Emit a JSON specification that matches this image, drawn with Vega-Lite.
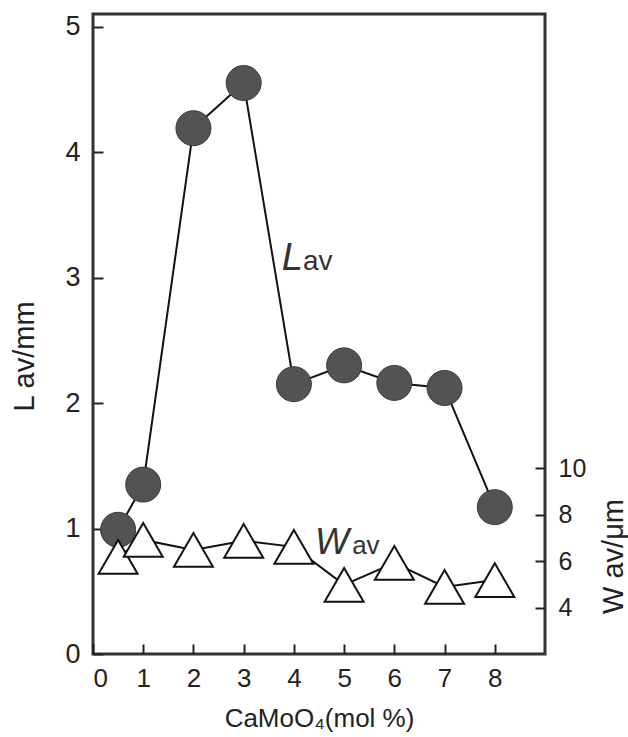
{
  "$schema": "https://vega.github.io/schema/vega-lite/v6.json",
  "width": 452,
  "height": 640,
  "autosize": {"type": "none"},
  "padding": {"left": 93, "top": 14, "right": 83, "bottom": 83},
  "background": "white",
  "config": {
    "view": {"stroke": "#333", "strokeWidth": 3},
    "font": "Liberation Sans",
    "axis": {
      "domain": false,
      "grid": false,
      "labelFont": "Liberation Sans",
      "titleFont": "Liberation Sans",
      "labelColor": "#222",
      "titleColor": "#222",
      "tickColor": "#222",
      "tickWidth": 2,
      "titleFontWeight": "normal"
    }
  },
  "datasets": {
    "lav": [
      {"x": 0.5, "L": 0.99},
      {"x": 1, "L": 1.35},
      {"x": 2, "L": 4.19},
      {"x": 3, "L": 4.55},
      {"x": 4, "L": 2.15},
      {"x": 5, "L": 2.3},
      {"x": 6, "L": 2.16},
      {"x": 7, "L": 2.12},
      {"x": 8, "L": 1.17}
    ],
    "wav": [
      {"x": 0.5, "W": 6.19},
      {"x": 1, "W": 6.92},
      {"x": 2, "W": 6.49},
      {"x": 3, "W": 6.88},
      {"x": 4, "W": 6.62},
      {"x": 5, "W": 4.98},
      {"x": 6, "W": 5.93},
      {"x": 7, "W": 4.89},
      {"x": 8, "W": 5.19}
    ]
  },
  "encoding": {
    "x": {
      "field": "x",
      "type": "quantitative",
      "scale": {"domain": [0, 9], "nice": false, "zero": false},
      "axis": {
        "values": [0, 1, 2, 3, 4, 5, 6, 7, 8],
        "tickSize": -10,
        "labelFontSize": 26,
        "labelPadding": 21,
        "title": "CaMoO₄(mol %)",
        "titleFontSize": 26,
        "titlePadding": 14
      }
    }
  },
  "layer": [
    {
      "encoding": {
        "y": {
          "field": "L",
          "type": "quantitative",
          "scale": {"domain": [0, 5.1], "nice": false, "zero": false},
          "axis": {
            "orient": "left",
            "values": [0, 1, 2, 3, 4, 5],
            "tickSize": -10,
            "labelFontSize": 27,
            "labelPadding": 23,
            "title": "L av/mm",
            "titleFontSize": 29,
            "titleX": -60,
            "titleY": 342,
            "titleAngle": 270,
            "titleAlign": "center",
            "titleBaseline": "alphabetic"
          }
        }
      },
      "layer": [
        {
          "data": {"name": "lav"},
          "mark": {"type": "line", "color": "#111", "strokeWidth": 2}
        },
        {
          "data": {"name": "lav"},
          "mark": {"type": "point", "shape": "circle", "filled": true, "size": 1225, "fill": "#535353", "stroke": "#3a3a3a", "strokeWidth": 1, "opacity": 1}
        },
        {
          "data": {"values": [{"x": 3.76, "L": 3.06, "t": "L"}]},
          "mark": {"type": "text", "align": "left", "baseline": "alphabetic", "fontStyle": "italic", "fontSize": 38, "color": "#333", "font": "Liberation Sans"},
          "encoding": {"text": {"field": "t"}}
        },
        {
          "data": {"values": [{"x": 4.18, "L": 3.06, "t": "av"}]},
          "mark": {"type": "text", "align": "left", "baseline": "alphabetic", "fontSize": 28, "color": "#333", "font": "Liberation Sans"},
          "encoding": {"text": {"field": "t"}}
        },
        {
          "data": {"values": [{"x": 4.42, "L": 0.8, "t": "W"}]},
          "mark": {"type": "text", "align": "left", "baseline": "alphabetic", "fontStyle": "italic", "fontSize": 36, "color": "#333", "font": "Liberation Sans"},
          "encoding": {"text": {"field": "t"}}
        },
        {
          "data": {"values": [{"x": 5.16, "L": 0.8, "t": "av"}]},
          "mark": {"type": "text", "align": "left", "baseline": "alphabetic", "fontSize": 26, "color": "#333", "font": "Liberation Sans"},
          "encoding": {"text": {"field": "t"}}
        }
      ]
    },
    {
      "data": {"name": "wav"},
      "encoding": {
        "y": {
          "field": "W",
          "type": "quantitative",
          "scale": {"domain": [2, 29.6], "nice": false, "zero": false},
          "axis": {
            "orient": "right",
            "values": [4, 6, 8, 10],
            "tickSize": -10,
            "labelFontSize": 25,
            "labelPadding": 23,
            "title": "W av/μm",
            "titleFontSize": 29,
            "titleAngle": 270,
            "titleX": 77,
            "titleY": 542,
            "titleAlign": "center",
            "titleBaseline": "alphabetic"
          }
        }
      },
      "layer": [
        {
          "mark": {"type": "line", "color": "#111", "strokeWidth": 2}
        },
        {
          "mark": {"type": "point", "shape": "triangle-up", "filled": true, "size": 1520, "fill": "white", "stroke": "#111", "strokeWidth": 2, "opacity": 1}
        }
      ]
    }
  ],
  "resolve": {"scale": {"y": "independent"}}
}
